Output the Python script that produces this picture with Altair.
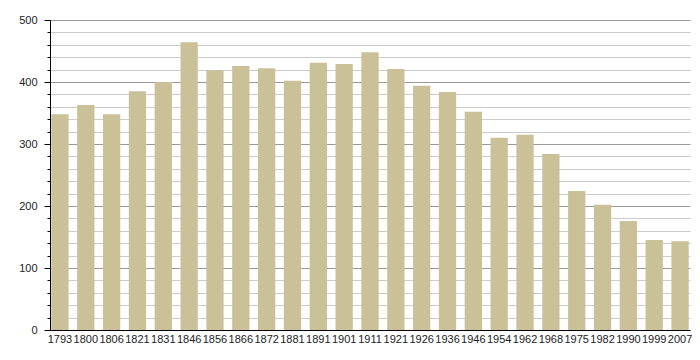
import altair as alt
import pandas as pd

years = ["1793", "1800", "1806", "1821", "1831", "1846", "1856", "1866", "1872", "1881",
         "1891", "1901", "1911", "1921", "1926", "1936", "1946", "1954", "1962", "1968",
         "1975", "1982", "1990", "1999", "2007"]
population = [348, 363, 348, 385, 400, 464, 419, 426, 422, 402,
              431, 429, 448, 421, 394, 384, 352, 310, 315, 284,
              224, 202, 176, 145, 143]
y_ticks = list(range(0, 501, 20))

df = pd.DataFrame({"year": years, "pop": population})

chart = alt.Chart(df).mark_bar(color="#CBC198").encode(
    x=alt.X("year:N", sort=None, title=None,
            scale=alt.Scale(paddingInner=0.33, paddingOuter=0.05),
            axis=alt.Axis(labelAngle=0, ticks=False, domainColor="#000", labelOverlap=False,
                          labelFontSize=11, labelColor="#222", labelFont="Liberation Sans",
                          labelPadding=3)),
    y=alt.Y("pop:Q", title=None,
            scale=alt.Scale(domain=[0, 500], nice=False),
            axis=alt.Axis(values=y_ticks, domainColor="#000", tickColor="#000",
                          tickSize={"condition": {"test": "datum.value % 100 === 0", "value": 6},
                                    "value": 3},
                          labelExpr="datum.value % 100 === 0 ? datum.label : ''",
                          labelFontSize=11, labelColor="#222", labelFont="Liberation Sans",
                          labelPadding=7,
                          gridColor={"condition": {"test": "datum.value % 100 === 0", "value": "#999"},
                                     "value": "#ccc"},
                          gridOpacity=1)),
).properties(
    width=640, height=310,
    autosize=alt.AutoSizeParams(type="none"),
    padding={"left": 42, "top": 12, "right": 2, "bottom": 30},
).configure_view(stroke=None)

chart.save("out.html", embed_options={"renderer": "svg", "actions": False})
